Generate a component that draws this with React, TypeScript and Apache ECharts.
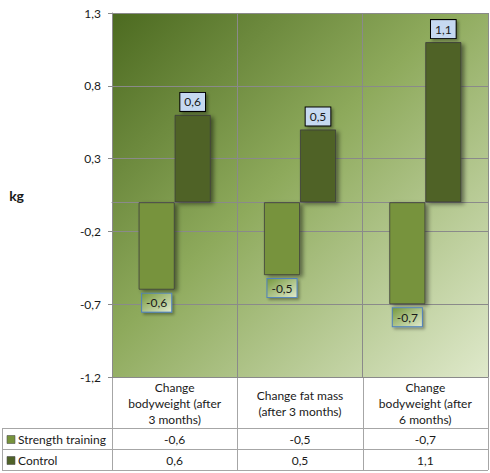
import React, { useEffect, useRef } from 'react';
import * as echarts from 'echarts';

const categories = [
  'Change\nbodyweight (after\n3 months)',
  'Change fat mass\n(after 3 months)',
  'Change\nbodyweight (after\n6 months)',
];
const seriesNames = ['Strength training', 'Control'];
const strengthValues = [-0.6, -0.5, -0.7];
const controlValues = [0.6, 0.5, 1.1];
const yTicks = [-1.2, -0.7, -0.2, 0.3, 0.8, 1.3];
const axisTitle = 'kg';

const W = 490;
const H = 473;
const GL = 112;
const GR = 488;
const GT = 13;
const GB = 377;
const ROW1 = 428;
const ROW2 = 449;
const ROW3 = 470;
const TL = 2;
const COLORS = ['#77933c', '#4f6228'];
const GRID_COLOR = '#8a8a8a';
const TABLE_COLOR = '#a6a6a6';
const FONT = 'Lato, "Liberation Sans", sans-serif';

const fmt = (v: number) => v.toFixed(1).replace('.', ',');

export default function App() {
  const ref = useRef<HTMLDivElement>(null);
  useEffect(() => {
    if (!ref.current) return;
    const chart = echarts.init(ref.current, undefined, { renderer: 'svg' });

    const allSeries = [strengthValues, controlValues];
    const colW = (GR - GL) / categories.length;
    const graphics: any[] = [];
    const line = (x1: number, y1: number, x2: number, y2: number) =>
      graphics.push({
        type: 'line',
        shape: { x1, y1, x2, y2 },
        style: { stroke: TABLE_COLOR, lineWidth: 1 },
        silent: true,
      });
    // table borders
    line(TL, ROW1 + 0.5, GR, ROW1 + 0.5);
    line(TL, ROW2 + 0.5, GR, ROW2 + 0.5);
    line(TL, ROW3 + 0.5, GR, ROW3 + 0.5);
    line(TL + 0.5, ROW1, TL + 0.5, ROW3);
    for (let i = 0; i <= categories.length; i++) {
      const x = Math.round(GL + colW * i) + 0.5;
      line(x, GB, x, ROW3);
    }
    const rows = [
      [ROW1, ROW2],
      [ROW2, ROW3],
    ];
    seriesNames.forEach((name, si) => {
      const cy = (rows[si][0] + rows[si][1]) / 2 + 1;
      graphics.push({
        type: 'rect',
        shape: { x: 7, y: cy - 4, width: 8, height: 8 },
        style: { fill: COLORS[si], stroke: '#505050', lineWidth: 0.6 },
      });
      graphics.push({
        type: 'text',
        x: 18,
        y: cy,
        style: {
          text: name,
          fill: '#1a1a1a',
          font: `12px ${FONT}`,
          align: 'left',
          verticalAlign: 'middle',
        },
      });
      allSeries[si].forEach((v, ci) => {
        graphics.push({
          type: 'text',
          x: GL + colW * (ci + 0.5),
          y: cy,
          style: {
            text: fmt(v),
            fill: '#1a1a1a',
            font: `12px ${FONT}`,
            align: 'center',
            verticalAlign: 'middle',
          },
        });
      });
    });

    const barShadow = {
      shadowBlur: 4,
      shadowOffsetX: 3,
      shadowOffsetY: 2,
      shadowColor: 'rgba(0,0,0,0.45)',
    };

    chart.setOption({
      animation: false,
      backgroundColor: '#ffffff',
      textStyle: { fontFamily: FONT },
      grid: {
        left: GL,
        right: W - GR,
        top: GT,
        bottom: H - GB,
        show: true,
        borderWidth: 0,
        backgroundColor: new echarts.graphic.LinearGradient(0, 0, 1, 1, [
          { offset: 0, color: '#4c6a20' },
          { offset: 0.45, color: '#8eaa5c' },
          { offset: 1, color: '#dfe9cb' },
        ]),
      },
      legend: { show: false },
      xAxis: {
        type: 'category',
        data: categories,
        axisLine: { show: true, lineStyle: { color: GRID_COLOR } },
        axisTick: { show: false },
        splitLine: { show: true, interval: 0, lineStyle: { color: GRID_COLOR, width: 1 } },
        axisLabel: {
          interval: 0,
          margin: 26,
          verticalAlign: 'middle',
          lineHeight: 16,
          fontSize: 12,
          color: '#1a1a1a',
          fontFamily: FONT,
        },
      },
      yAxis: {
        type: 'value',
        min: -1.2,
        max: 1.3,
        name: axisTitle,
        nameLocation: 'middle',
        nameRotate: 0,
        nameGap: 88,
        nameTextStyle: { fontWeight: 'bold', fontSize: 14, color: '#1a1a1a', fontFamily: FONT },
        axisLine: { show: true, lineStyle: { color: GRID_COLOR } },
        axisTick: { show: true, length: 4, customValues: yTicks, lineStyle: { color: GRID_COLOR } },
        axisLabel: {
          customValues: yTicks,
          formatter: (v: number) => fmt(v),
          margin: 11,
          fontSize: 12,
          color: '#1a1a1a',
          fontFamily: FONT,
        },
        splitLine: { show: true, lineStyle: { color: GRID_COLOR, width: 1 } },
      },
      series: [
        {
          name: seriesNames[0],
          type: 'bar',
          data: strengthValues,
          barWidth: 36,
          barGap: '0%',
          itemStyle: { color: COLORS[0], borderColor: '#3c3c3c', borderWidth: 0.8, ...barShadow },
          label: {
            show: true,
            position: 'bottom',
            distance: 4,
            formatter: (p: any) => fmt(p.value),
            fontSize: 12,
            color: '#1a1a1a',
            fontFamily: FONT,
            backgroundColor: new echarts.graphic.LinearGradient(0, 0, 1, 1, [
              { offset: 0, color: '#789a40' },
              { offset: 1, color: '#dfe9cb' },
            ]),
            borderColor: '#4f81bd',
            borderWidth: 1,
            padding: [3, 4, 3, 4],
            shadowBlur: 3,
            shadowOffsetX: 2,
            shadowOffsetY: 2,
            shadowColor: 'rgba(0,0,0,0.35)',
          },
        },
        {
          name: seriesNames[1],
          type: 'bar',
          data: controlValues,
          barWidth: 36,
          barGap: '0%',
          itemStyle: { color: COLORS[1], borderColor: '#3c3c3c', borderWidth: 0.8, ...barShadow },
          label: {
            show: true,
            position: 'top',
            distance: 4,
            formatter: (p: any) => fmt(p.value),
            fontSize: 12,
            color: '#1a1a1a',
            fontFamily: FONT,
            backgroundColor: '#c6d9f1',
            borderColor: '#000000',
            borderWidth: 1,
            padding: [3, 4, 3, 4],
            shadowBlur: 3,
            shadowOffsetX: 2,
            shadowOffsetY: 2,
            shadowColor: 'rgba(0,0,0,0.35)',
          },
        },
      ],
      graphic: graphics,
    });
    return () => chart.dispose();
  }, []);
  return (
    <div
      ref={ref}
      style={{ position: 'fixed', left: 0, top: 0, width: W, height: H }}
    />
  );
}
